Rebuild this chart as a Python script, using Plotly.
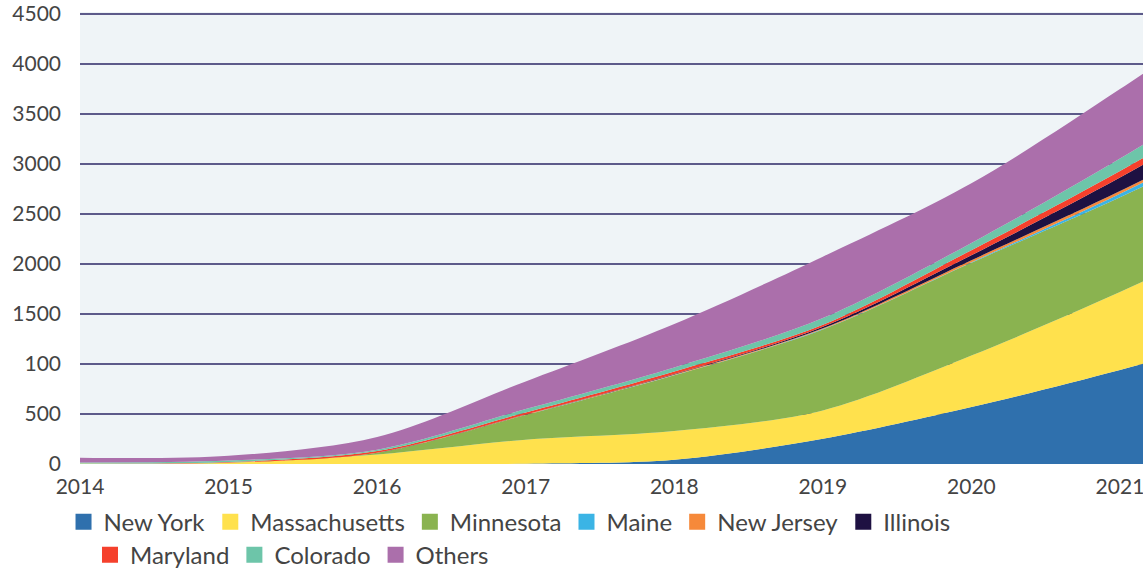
import plotly.graph_objects as go

years = [2014, 2015, 2016, 2017, 2018, 2019, 2020, 2021, 2022]
series_names = ["New York", "Massachusetts", "Minnesota", "Maine", "New Jersey",
                "Illinois", "Maryland", "Colorado", "Others"]
new_york = [0, 0, 0, 3, 42, 252, 569, 940, 1350]
massachusetts = [4, 12, 95, 240, 287, 284, 515, 780, 1060]
minnesota = [0, 3, 17, 247, 558, 809, 928, 948, 970]
maine = [0, 0, 0, 0, 2, 4, 6, 35, 70]
new_jersey = [0, 0, 1, 3, 5, 8, 20, 26, 32]
illinois = [0, 0, 0, 1, 5, 15, 50, 135, 230]
maryland = [2, 5, 16, 22, 27, 20, 50, 65, 80]
colorado = [10, 15, 14, 33, 40, 67, 73, 125, 180]
others = [46, 47, 127, 277, 434, 614, 596, 695, 800]

x_tick_vals = [2014, 2015, 2016, 2017, 2018, 2019, 2020, 2021]
x_tick_text = ["2014", "2015", "2016", "2017", "2018", "2019", "2020", "2021"]
y_tick_vals = [0, 500, 1000, 1500, 2000, 2500, 3000, 3500, 4000, 4500]
y_tick_text = ["0", "500", "100", "1500", "2000", "2500", "3000", "3500", "4000", "4500"]

colors = ["#2f70ad", "#ffe14d", "#8ab350", "#3bb4e5", "#f6893a",
          "#1e1142", "#f5402c", "#6dc5a9", "#ab6fab"]

values = [new_york, massachusetts, minnesota, maine, new_jersey,
          illinois, maryland, colorado, others]

FONT = "Lato"
fig = go.Figure()

for name, vals, col in zip(series_names, values, colors):
    fig.add_trace(go.Scatter(
        x=years, y=vals, name=name, mode="lines", stackgroup="one",
        line=dict(width=0, shape="spline", smoothing=0.9, color=col),
        fillcolor=col, showlegend=False, hoverinfo="x+y+name",
    ))

# legend entries (square swatches)
for i, (name, col) in enumerate(zip(series_names, colors)):
    fig.add_trace(go.Scatter(
        x=[None], y=[None], name=name, mode="markers",
        marker=dict(symbol="square", size=16, color=col),
        showlegend=True, legend="legend" if i < 6 else "legend2",
    ))

fig.update_layout(
    width=1143, height=571,
    margin=dict(l=80, r=0, t=12, b=107, autoexpand=False),
    paper_bgcolor="white",
    plot_bgcolor="#eff4f7",
    font=dict(family=FONT, size=21, color="#444444"),
    xaxis=dict(
        range=[2014, 2021.155], tickvals=x_tick_vals, ticktext=x_tick_text,
        showgrid=False, zeroline=False, showline=False, automargin=False,
        ticklabeloverflow="allow",
        ticklabelstandoff=8, tickfont=dict(family=FONT, size=21, color="#444444"),
    ),
    yaxis=dict(
        range=[0, 4520], tickvals=y_tick_vals, ticktext=y_tick_text,
        showgrid=True, gridcolor="#5d5a8a", gridwidth=1.5,
        zeroline=False, showline=False, automargin=False,
        ticklabelstandoff=18, tickfont=dict(family=FONT, size=21, color="#444444"),
    ),
    legend=dict(
        orientation="h", traceorder="normal",
        x=-0.0155, xanchor="left", y=-0.0786, yanchor="top",
        font=dict(family=FONT, size=24, color="#444444"),
        bgcolor="rgba(0,0,0,0)", itemclick=False,
    ),
    legend2=dict(
        orientation="h", traceorder="normal",
        x=0.0094, xanchor="left", y=-0.152, yanchor="top",
        font=dict(family=FONT, size=24, color="#444444"),
        bgcolor="rgba(0,0,0,0)", itemclick=False,
    ),
    showlegend=True,
)

fig.write_html("out.html", config={"displayModeBar": False},
               post_script="document.body.style.margin='0';document.body.style.overflow='hidden';")
